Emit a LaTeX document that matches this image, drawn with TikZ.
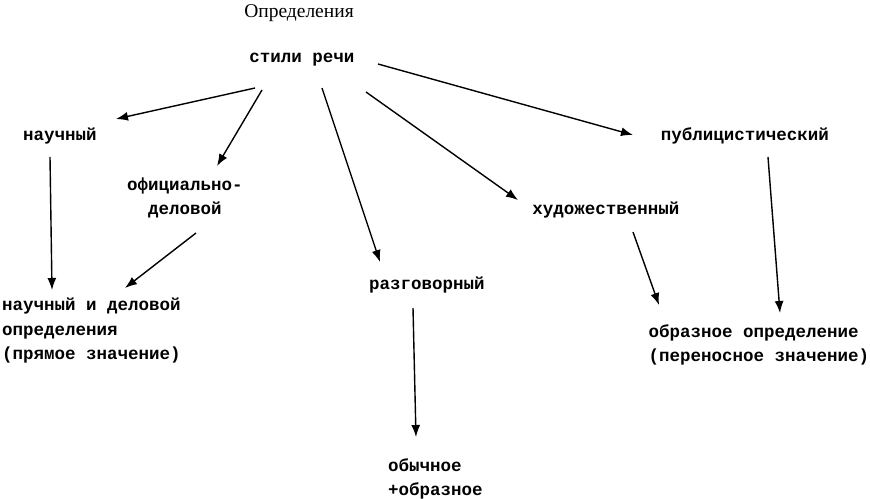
\documentclass[tikz,border=0pt]{standalone}
\usepackage{fontspec}
\setmainfont{Liberation Mono}
\newfontfamily\timesfont{Liberation Serif}
\usetikzlibrary{arrows.meta,calc}

\begin{document}
\begin{tikzpicture}[
    x=1pt,y=-1pt,
    term/.style={inner sep=0pt,align=center,font=\bfseries\fontsize{17.5}{24.5}\selectfont},
    leftterm/.style={term,align=left},
    link/.style={-{Latex[length=12pt,width=9pt]},line width=1.4pt,black}
  ]
    \useasboundingbox (0,0) rectangle (870,498);
    \node[inner sep=0pt,font=\timesfont\fontsize{19.5}{22}\selectfont] (def) at (299,13) {Определения};
    \node[term] (sr) at (302,60) {стили речи};
    \node[term] (nauch) at (60,136) {научный};
    \node[term] (ofic) at (185,198) {официально-\\деловой};
    \node[term] (razg) at (427,285) {разговорный};
    \node[term] (hud) at (606,210) {художественный};
    \node[term] (publ) at (745,136) {публицистический};
    \node[leftterm,anchor=north west] (nid) at (2,298) {научный и деловой\\определения\\(прямое значение)};
    \node[leftterm] (obr) at (759,345) {образное определение\\(переносное значение)};
    \node[leftterm,anchor=north west] (obych) at (388,458) {обычное\\+образное};

    \draw[link] ($(sr)+(-47,28)$) -- ($(nauch)+(56,-17)$);
    \draw[link] ($(sr)+(-40,30)$) -- ($(ofic)+(32,-32)$);
    \draw[link] ($(sr)+(20,28)$) -- ($(razg)+(-47,-23)$);
    \draw[link] ($(sr)+(64,32)$) -- ($(hud)+(-88,-10)$);
    \draw[link] ($(sr)+(76,4)$) -- ($(publ)+(-112,-1)$);
    \draw[link] ($(nauch)+(-10,21)$) -- ($(nid.north west)+(50,-8)$);
    \draw[link] ($(ofic)+(11,35)$) -- ($(nid.north west)+(123,-10)$);
    \draw[link] ($(razg)+(-14,23)$) -- ($(obych.north west)+(28,-21)$);
    \draw[link] ($(hud)+(27,22)$) -- ($(obr)+(-100,-40)$);
    \draw[link] ($(publ)+(23,21)$) -- ($(obr)+(21,-32)$);
  \end{tikzpicture}
\end{document}
